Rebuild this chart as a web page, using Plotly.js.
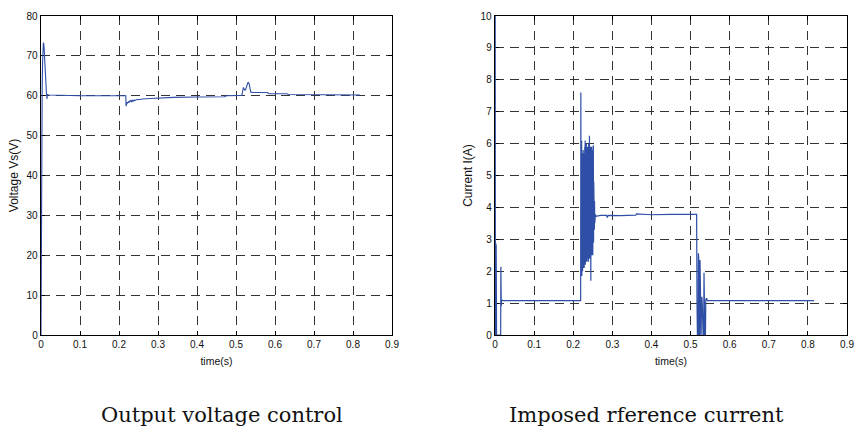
<!DOCTYPE html>
<html>
<head>
<meta charset="utf-8">
<script src="https://cdn.plot.ly/plotly-3.0.1.min.js"></script>
<style>html,body{margin:0;padding:0;background:#fff}#chart{width:855px;height:436px}</style>
</head>
<body>
<div id="chart"></div>
<script>
// ---------- Output voltage Vs (V) ----------
const voltageTime = [0, 0.0005, 0.001, 0.002, 0.003, 0.004, 0.005, 0.006, 0.007, 0.008, 0.009, 0.010, 0.012, 0.014, 0.0155, 0.016, 0.020, 0.050, 0.100, 0.150, 0.2175,
  0.2180, 0.2190, 0.2200, 0.2210, 0.2220, 0.2230, 0.2240, 0.2250, 0.2260, 0.2270, 0.2280, 0.2290, 0.2300, 0.2310, 0.2320, 0.2330, 0.2340, 0.2350, 0.2360, 0.2370, 0.2380, 0.2390, 0.2400, 0.2420, 0.2440, 0.2460, 0.2480, 0.2500, 0.2540, 0.2600,
  0.280, 0.300, 0.340, 0.400, 0.470, 0.476, 0.515, 0.519, 0.521, 0.523, 0.525, 0.527, 0.530, 0.532, 0.534, 0.536, 0.538, 0.545, 0.580, 0.585, 0.630, 0.635, 0.700, 0.760, 0.818];
const voltageValues = [0, 20, 30, 50, 62, 68, 72, 73.3, 73.1, 72, 70, 66, 62, 60.5, 59.2, 60.3, 60.2, 60.1, 60.0, 60.0, 60.0,
  57.4, 58.2, 57.9, 58.4, 58.1, 58.5, 58.2, 58.6, 58.3, 58.8, 58.4, 58.9, 58.5, 58.7, 58.4, 59.0, 58.6, 58.8, 58.5, 58.9, 58.7, 59.0, 58.8, 58.9, 59.0, 58.9, 59.1, 59.0, 59.1, 59.2,
  59.3, 59.4, 59.6, 59.7, 59.75, 60.0, 60.1, 62.1, 61.8, 61.3, 61.6, 62.6, 63.2, 63.3, 62.9, 61.8, 60.9, 60.8, 60.8, 60.5, 60.5, 60.3, 60.3, 60.2, 60.2];

// ---------- Imposed reference current I (A) ----------
const currentTime = [0, 0.0005, 0.0010, 0.0020, 0.0030, 0.0040, 0.0130, 0.0145, 0.0150, 0.0160, 0.0170, 0.0200, 0.1000, 0.2190,
  0.2195, 0.2200, 0.2205, 0.2210, 0.2215, 0.2220, 0.2225, 0.2230, 0.2235, 0.2240, 0.2245, 0.2250, 0.2255, 0.2260, 0.2265, 0.2270, 0.2275, 0.2280, 0.2285, 0.2290,
  0.2295, 0.2300, 0.2305, 0.2310, 0.2315, 0.2320, 0.2325, 0.2330, 0.2335, 0.2340, 0.2345, 0.2350, 0.2355, 0.2360, 0.2365, 0.2370, 0.2375, 0.2380, 0.2385, 0.2390,
  0.2395, 0.2400, 0.2405, 0.2410, 0.2415, 0.2420, 0.2425, 0.2430, 0.2435, 0.2440, 0.2445, 0.2450, 0.2455, 0.2460, 0.2465, 0.2470, 0.2475, 0.2480, 0.2485, 0.2490,
  0.2495, 0.2500, 0.2505, 0.2510, 0.2515, 0.2520, 0.2525, 0.2530, 0.2535, 0.2540, 0.2545, 0.2550, 0.2555, 0.2560, 0.2570, 0.2580,
  0.270, 0.285, 0.287, 0.289, 0.320, 0.360, 0.362, 0.400, 0.450, 0.500, 0.5155,
  0.5165, 0.5175, 0.5195, 0.5200, 0.5210, 0.5225, 0.5235, 0.5242, 0.5255, 0.5270, 0.5280, 0.5290, 0.5300, 0.5320, 0.5335, 0.5344, 0.5355, 0.5365, 0.5380, 0.5390, 0.5410, 0.5430,
  0.600, 0.700, 0.780, 0.816];
const currentValues = [10, 10, 0, 2.87, 2.8, 0, 0, 0, 2.14, 0.9, 1.1, 1.08, 1.08, 1.08,
  7.60, 1.90, 5.60, 2.00, 6.10, 1.85, 5.60, 2.10, 5.70, 2.00, 5.50, 2.20, 5.80, 2.10, 5.60, 2.30, 5.70, 2.10, 5.50, 2.20,
  5.90, 2.30, 6.10, 2.20, 5.60, 2.40, 5.80, 2.30, 6.00, 2.40, 5.70, 2.30, 5.80, 2.50, 5.90, 2.40, 5.60, 2.50, 5.80, 2.30,
  6.00, 2.50, 5.70, 2.40, 6.25, 2.50, 5.60, 2.40, 5.80, 2.50, 5.90, 1.70, 5.60, 2.50, 5.50, 2.60, 5.90, 2.50, 5.50, 2.60,
  5.80, 2.50, 5.40, 2.70, 5.95, 2.90, 4.80, 3.10, 4.50, 3.30, 4.20, 3.50, 3.95, 3.65, 3.78, 3.72,
  3.75, 3.75, 3.68, 3.75, 3.74, 3.76, 3.80, 3.77, 3.78, 3.78, 3.78,
  1.0, 0, 0, 2.56, 2.4, 0, 0, 2.35, 1.5, 0, 0.9, 1.2, 0.95, 0, 0, 1.95, 0.5, 0, 0, 1.1, 1.15, 1.08,
  1.08, 1.08, 1.08, 1.08];

const xTicks = [0, 0.1, 0.2, 0.3, 0.4, 0.5, 0.6, 0.7, 0.8, 0.9];
const voltageTicks = [0, 10, 20, 30, 40, 50, 60, 70, 80];
const currentTicks = [0, 1, 2, 3, 4, 5, 6, 7, 8, 9, 10];
const captions = ['Output voltage control', 'Imposed rference current'];

const lineColor = '#2f4fa6';
const W = 855, H = 436;
const yDom = [1 - 335 / H, 1 - 16 / H];
const sans = 'Liberation Sans, Arial, sans-serif';

function xAxis(dom) {
  return {
    domain: dom, range: [0, 0.9], tickvals: xTicks, ticktext: xTicks.map(String),
    showgrid: true, gridcolor: '#333', griddash: '9px,6px', gridwidth: 1,
    zeroline: false, showline: true, linecolor: '#000', linewidth: 1.3, mirror: 'ticks',
    ticks: 'inside', ticklen: 4, tickcolor: '#000', layer: 'below traces',
    tickfont: {family: sans, size: 10, color: '#111'},
    title: {text: 'time(s)', font: {family: sans, size: 10.5, color: '#111'}, standoff: 8},
    fixedrange: true
  };
}
function yAxis(anchor, range, ticks, title) {
  return {
    domain: yDom, anchor: anchor, range: range, tickvals: ticks, ticktext: ticks.map(String),
    showgrid: true, gridcolor: '#333', griddash: '9px,6px', gridwidth: 1,
    zeroline: false, showline: true, linecolor: '#000', linewidth: 1.3, mirror: 'ticks',
    ticks: 'inside', ticklen: 4, tickcolor: '#000', layer: 'below traces',
    tickfont: {family: sans, size: 10, color: '#111'},
    title: {text: title, font: {family: sans, size: 12, color: '#111'}, standoff: 5},
    fixedrange: true
  };
}

const data = [
  {x: voltageTime, y: voltageValues, xaxis: 'x', yaxis: 'y', type: 'scatter', mode: 'lines',
   line: {color: lineColor, width: 1.1}, showlegend: false, hoverinfo: 'x+y'},
  {x: currentTime, y: currentValues, xaxis: 'x2', yaxis: 'y2', type: 'scatter', mode: 'lines',
   line: {color: lineColor, width: 1.2}, showlegend: false, hoverinfo: 'x+y'}
];

const layout = {
  width: W, height: H,
  margin: {l: 0, r: 0, t: 0, b: 0},
  paper_bgcolor: '#fff', plot_bgcolor: '#fff',
  xaxis: xAxis([41 / W, 392 / W]),
  yaxis: yAxis('x', [0, 80], voltageTicks, 'Voltage Vs(V)'),
  xaxis2: xAxis([495 / W, 847 / W]),
  yaxis2: yAxis('x2', [0, 10], currentTicks, 'Current I(A)'),
  annotations: [
    {text: captions[0], xref: 'paper', yref: 'paper', x: 222 / W, y: 1 - 415 / H, xanchor: 'center', yanchor: 'middle',
     showarrow: false, font: {family: 'DejaVu Serif, serif', size: 21, color: '#111'}},
    {text: captions[1], xref: 'paper', yref: 'paper', x: 646 / W, y: 1 - 415 / H, xanchor: 'center', yanchor: 'middle',
     showarrow: false, font: {family: 'DejaVu Serif, serif', size: 21, color: '#111'}}
  ]
};
layout.xaxis.anchor = 'y';
layout.xaxis2.anchor = 'y2';

Plotly.newPlot('chart', data, layout, {displayModeBar: false, staticPlot: true});
</script>
</body>
</html>
